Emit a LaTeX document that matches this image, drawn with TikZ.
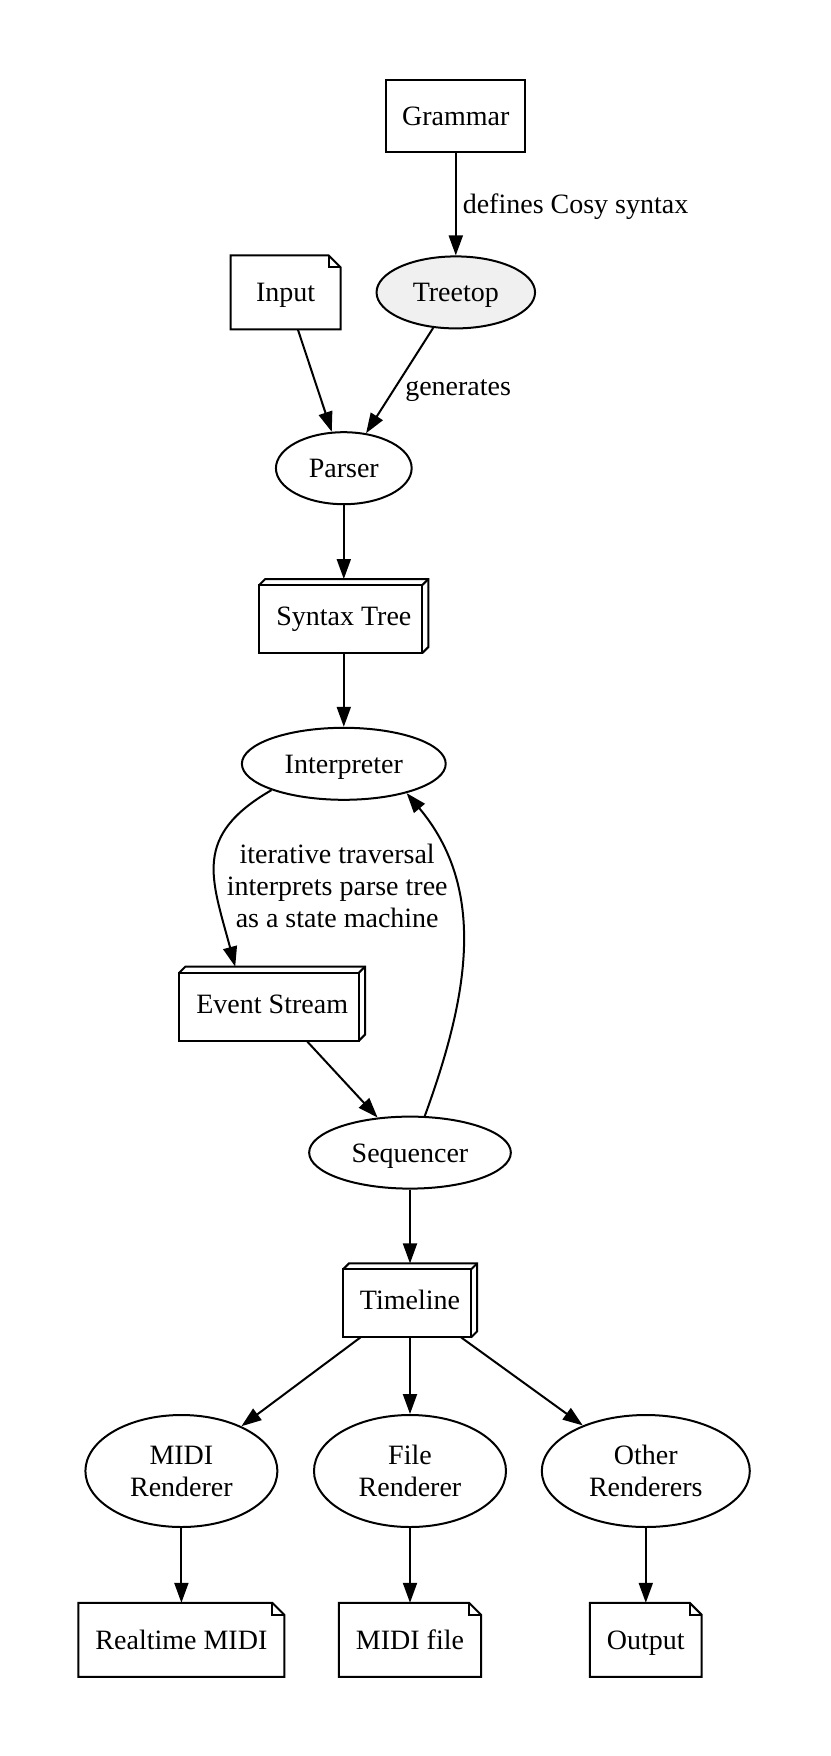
\documentclass[tikz,border=0pt]{standalone}
\usepackage{fontspec}
\setmainfont{Liberation Serif}
\usetikzlibrary{arrows.meta,calc,shapes.geometric}
\definecolor{treetopgray}{RGB}{240,240,240}
\tikzset{
  basenode/.style={minimum width=54pt, minimum height=36pt, inner xsep=8pt,
    inner ysep=3pt, line width=1pt},
  oneline/.style={text height=11pt, text depth=1.5pt},
  boxnode/.style={basenode, oneline, rectangle, draw},
  notenode/.style={basenode, oneline, rectangle},
  cubenode/.style={basenode, oneline, rectangle},
  ovalnode/.style={basenode, oneline, ellipse, draw, inner xsep=6.5pt,
    inner ysep=5pt},
  renderer/.style={basenode, ellipse, draw, align=center, inner xsep=6.5pt,
    inner ysep=5pt, minimum width=96pt, minimum height=56pt},
  outline/.style={line width=1pt, line join=miter},
  edge/.style={line width=1pt, -{Triangle[length=10pt,width=7pt]}}
}

\begin{document}
\begin{tikzpicture}[x=1pt,y=-1pt,font=\fontsize{14pt}{16pt}\selectfont]
  \useasboundingbox (0,0) rectangle (415,878);

  % Grammar and parser stage
  \node[boxnode] (grammar) at (227.9,58.0) {Grammar};
  \node[ovalnode,fill=treetopgray] (treetop) at (227.9,146.2) {Treetop};
  \node[notenode] (input) at (142.8,146.2) {Input};
  \node[ovalnode] (parser) at (171.9,234.1) {Parser};
  \node[cubenode] (syntax) at (171.9,308.0) {Syntax Tree};

  % Interpretation loop
  \node[ovalnode] (interp) at (171.9,381.9) {Interpreter};
  \node[cubenode] (event) at (136.1,501.8) {Event Stream};
  \node[ovalnode] (seq) at (205.0,576.3) {Sequencer};
  \node[cubenode] (timeline) at (205.0,650.2) {Timeline};
  \node[align=center] (traversal) at (168.6,443.0)
    {iterative traversal\\interprets parse tree\\as a state machine};

  % Renderers and outputs
  \node[renderer] (midirend) at (90.7,735.5) {MIDI\\Renderer};
  \node[renderer] (filerend) at (205.0,735.5) {File\\Renderer};
  \node[renderer,minimum width=104pt] (otherrend) at (322.9,735.5)
    {Other\\Renderers};
  \node[notenode] (realtime) at (90.7,819.9) {Realtime MIDI};
  \node[notenode] (midifile) at (205.0,819.9) {MIDI file};
  \node[notenode] (output) at (322.9,819.9) {Output};

  % Folded-corner outlines
  \foreach \n in {input,realtime,midifile,output}{
    \draw[outline] (\n.south west) -- (\n.north west)
      -- ($(\n.north east)+(-6pt,0pt)$) -- ($(\n.north east)+(0pt,-6pt)$)
      -- (\n.south east) -- cycle;
    \draw[outline] ($(\n.north east)+(-6pt,0pt)$) -- ++(0pt,-6pt)
      -- ++(6pt,0pt);
  }

  % 3d box outlines
  \foreach \n in {syntax,event,timeline}{
    \draw[outline] (\n.south west) rectangle ($(\n.north east)+(-3pt,-3pt)$);
    \draw[outline] ($(\n.north west)+(0pt,-3pt)$) -- ($(\n.north west)+(3pt,0pt)$)
      -- (\n.north east) -- ($(\n.south east)+(0pt,3pt)$)
      -- ($(\n.south east)+(-3pt,0pt)$);
    \draw[outline] ($(\n.north east)+(-3pt,-3pt)$) -- (\n.north east);
  }

  % Edges
  \draw[edge] (grammar) -- (treetop)
    node[midway,right,oneline,inner sep=3pt] {defines Cosy syntax};
  \draw[edge] (input) -- (parser);
  \draw[edge] (treetop) -- (parser)
    node[pos=0.55,right,oneline,inner sep=4pt] {generates};
  \draw[edge] (parser) -- (syntax);
  \draw[edge] (syntax) -- (interp);
  \draw[edge] (interp.200) to[out=210,in=105,looseness=1.3] (event.135);
  \draw[edge] (event) -- (seq);
  \draw[edge] (seq.68) to[out=70,in=-50] (interp.-25);
  \draw[edge] (seq) -- (timeline);
  \draw[edge] (timeline) -- (midirend);
  \draw[edge] (timeline) -- (filerend);
  \draw[edge] (timeline) -- (otherrend);
  \draw[edge] (midirend) -- (realtime);
  \draw[edge] (filerend) -- (midifile);
  \draw[edge] (otherrend) -- (output);
\end{tikzpicture}
\end{document}
